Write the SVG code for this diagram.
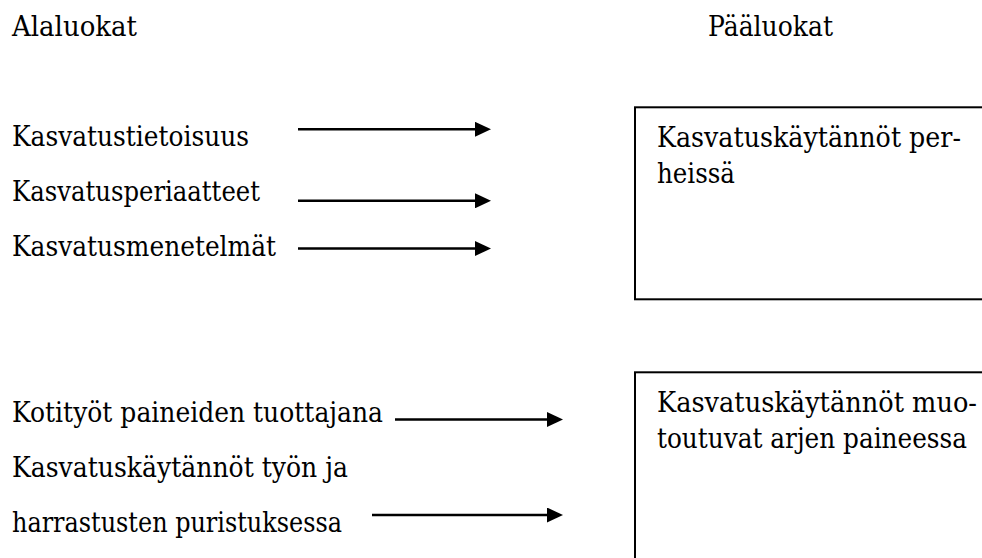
<svg xmlns="http://www.w3.org/2000/svg" width="982" height="558" viewBox="0 0 982 558">
<style>
  .t { font-family: 'DejaVu Serif', 'Liberation Serif', serif; font-size: 27.5px; fill: #000; }
  .box { fill: #fff; stroke: #000; stroke-width: 2; }
  .arr { stroke: #000; stroke-width: 2.4; fill: none; marker-end: url(#ah); }
</style>
<defs>
  <marker id="ah" markerUnits="userSpaceOnUse" viewBox="0 0 16 15" markerWidth="16" markerHeight="15" refX="1" refY="7.5" orient="auto">
    <path d="M0,0 L16,7.5 L0,15 Z" fill="#000"/>
  </marker>
</defs>
<rect width="982" height="558" fill="#fff"/>
<g id="headers" class="t">
  <text x="12" y="36" textLength="125" lengthAdjust="spacingAndGlyphs">Alaluokat</text>
  <text x="708" y="36" textLength="125" lengthAdjust="spacingAndGlyphs">Pääluokat</text>
</g>
<g id="sub1" class="t"><text x="12" y="146" textLength="237" lengthAdjust="spacingAndGlyphs">Kasvatustietoisuus</text></g>
<g id="sub2" class="t"><text x="12" y="201" textLength="248" lengthAdjust="spacingAndGlyphs">Kasvatusperiaatteet</text></g>
<g id="sub3" class="t"><text x="12" y="256" textLength="264" lengthAdjust="spacingAndGlyphs">Kasvatusmenetelmät</text></g>
<g id="sub4" class="t"><text x="12" y="421.7" textLength="371" lengthAdjust="spacingAndGlyphs">Kotityöt paineiden tuottajana</text></g>
<g id="sub5" class="t">
  <text x="12" y="476.7" textLength="336" lengthAdjust="spacingAndGlyphs">Kasvatuskäytännöt työn ja</text>
  <text x="12" y="531.7" textLength="330" lengthAdjust="spacingAndGlyphs">harrastusten puristuksessa</text>
</g>
<g id="main1">
  <rect class="box" x="635" y="107.3" width="360" height="192"/>
  <g class="t">
    <text x="657" y="147.3" textLength="304" lengthAdjust="spacingAndGlyphs">Kasvatuskäytännöt per-</text>
    <text x="657" y="183.3" textLength="78" lengthAdjust="spacingAndGlyphs">heissä</text>
  </g>
</g>
<g id="main2">
  <rect class="box" x="635" y="372.3" width="360" height="200"/>
  <g class="t">
    <text x="657" y="412.3" textLength="320" lengthAdjust="spacingAndGlyphs">Kasvatuskäytännöt muo-</text>
    <text x="657" y="448.3" textLength="310" lengthAdjust="spacingAndGlyphs">toutuvat arjen paineessa</text>
  </g>
</g>
<g id="connectors">
  <line class="arr" x1="298" y1="129.3" x2="476" y2="129.3"/>
  <line class="arr" x1="298" y1="200.8" x2="476" y2="200.8"/>
  <line class="arr" x1="298" y1="248.5" x2="476" y2="248.5"/>
  <line class="arr" x1="395" y1="419.5" x2="548" y2="419.5"/>
  <line class="arr" x1="372" y1="515" x2="548" y2="515"/>
</g>
</svg>
